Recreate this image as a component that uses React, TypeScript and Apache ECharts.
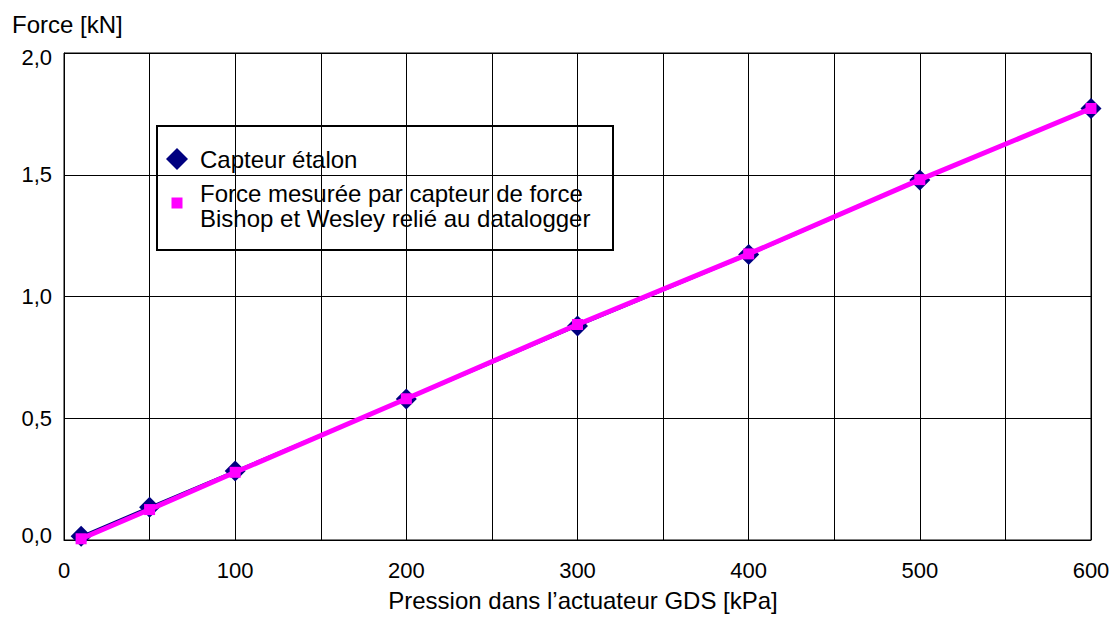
import React, { useEffect, useRef } from "react";
import * as echarts from "echarts";

const pressure = [10, 50, 100, 200, 300, 400, 500, 600];
const etalon = [0.015, 0.135, 0.283, 0.579, 0.879, 1.172, 1.478, 1.772];
const mesure = [0.005, 0.125, 0.278, 0.58, 0.885, 1.175, 1.48, 1.772];

const seriesNames = [
  "Capteur étalon",
  "Force mesurée par capteur de force",
  "Bishop et Wesley relié au datalogger",
];
const yTitle = "Force [kN]";
const xTitle = "Pression dans l’actuateur GDS [kPa]";

const FONT = "'Liberation Sans', Arial, sans-serif";
const BLUE = "#000080";
const PINK = "#ff00ff";

export default function App() {
  const ref = useRef<HTMLDivElement>(null);
  useEffect(() => {
    document.body.style.margin = "0";
    if (!ref.current) return;
    const chart = echarts.init(ref.current, undefined, { renderer: "svg" });
    chart.setOption({
      animation: false,
      backgroundColor: "#fff",
      textStyle: { fontFamily: FONT },
      grid: {
        left: 64,
        right: 25,
        top: 53,
        bottom: 77,
        show: true,
        borderColor: "#000",
        borderWidth: 1,
      },
      xAxis: {
        type: "value",
        min: 0,
        max: 600,
        interval: 50,
        axisLine: { lineStyle: { color: "#000", width: 1 } },
        axisTick: { show: false },
        splitLine: { show: true, lineStyle: { color: "#000", width: 1 } },
        axisLabel: {
          color: "#000",
          fontSize: 22,
          fontFamily: FONT,
          margin: 19,
          formatter: (v: number) => (v % 100 === 0 ? String(v) : ""),
        },
      },
      yAxis: {
        type: "value",
        min: 0,
        max: 2,
        interval: 0.5,
        axisLine: { show: true, lineStyle: { color: "#000", width: 1 } },
        axisTick: { show: false },
        splitLine: { show: true, lineStyle: { color: "#000", width: 1 } },
        axisLabel: {
          color: "#000",
          fontSize: 22,
          fontFamily: FONT,
          margin: 12,
          formatter: (v: number) => {
            const s = v.toFixed(1).replace(".", ",");
            if (v === 2) return `{t|${s}}`;
            if (v === 0) return `{b|${s}}`;
            return s;
          },
          rich: {
            t: { fontSize: 22, fontFamily: FONT, color: "#000", padding: [9, 0, 0, 0] },
            b: { fontSize: 22, fontFamily: FONT, color: "#000", padding: [0, 0, 9, 0] },
          },
        },
      },
      series: [
        {
          name: seriesNames[0],
          type: "line",
          data: pressure.map((x, i) => [x, etalon[i]]),
          symbol: "diamond",
          symbolSize: 21,
          itemStyle: { color: BLUE },
          lineStyle: { color: BLUE, width: 2.5 },
          z: 2,
        },
        {
          name: seriesNames[1],
          type: "line",
          data: pressure.map((x, i) => [x, mesure[i]]),
          symbol: "rect",
          symbolSize: 11,
          itemStyle: { color: PINK },
          lineStyle: { color: PINK, width: 5 },
          z: 3,
        },
      ],
      graphic: [
        {
          type: "text",
          x: 12,
          y: 24,
          style: {
            text: yTitle,
            font: `24px ${FONT}`,
            fill: "#000",
            textVerticalAlign: "middle",
          },
        },
        {
          type: "text",
          x: 583,
          y: 600,
          style: {
            text: xTitle,
            font: `24px ${FONT}`,
            fill: "#000",
            textAlign: "center",
            textVerticalAlign: "middle",
          },
        },
        {
          type: "group",
          z: 100,
          children: [
            {
              type: "rect",
              shape: { x: 157, y: 126, width: 456, height: 124 },
              style: { fill: "#fff", stroke: "#000", lineWidth: 2 },
            },
            {
              type: "polygon",
              shape: {
                points: [
                  [177, 148],
                  [188, 159],
                  [177, 170],
                  [166, 159],
                ],
              },
              style: { fill: BLUE },
            },
            {
              type: "text",
              x: 200,
              y: 159,
              style: {
                text: seriesNames[0],
                font: `24px ${FONT}`,
                fill: "#000",
                textVerticalAlign: "middle",
              },
            },
            {
              type: "rect",
              shape: { x: 171.5, y: 197.5, width: 11, height: 11 },
              style: { fill: PINK },
            },
            {
              type: "text",
              x: 200,
              y: 193,
              style: {
                text: seriesNames[1],
                font: `24px ${FONT}`,
                fill: "#000",
                textVerticalAlign: "middle",
              },
            },
            {
              type: "text",
              x: 200,
              y: 218.5,
              style: {
                text: seriesNames[2],
                font: `24px ${FONT}`,
                fill: "#000",
                textVerticalAlign: "middle",
              },
            },
          ],
        },
      ],
    });
    return () => chart.dispose();
  }, []);
  return <div ref={ref} style={{ width: 1116, height: 617 }} />;
}
